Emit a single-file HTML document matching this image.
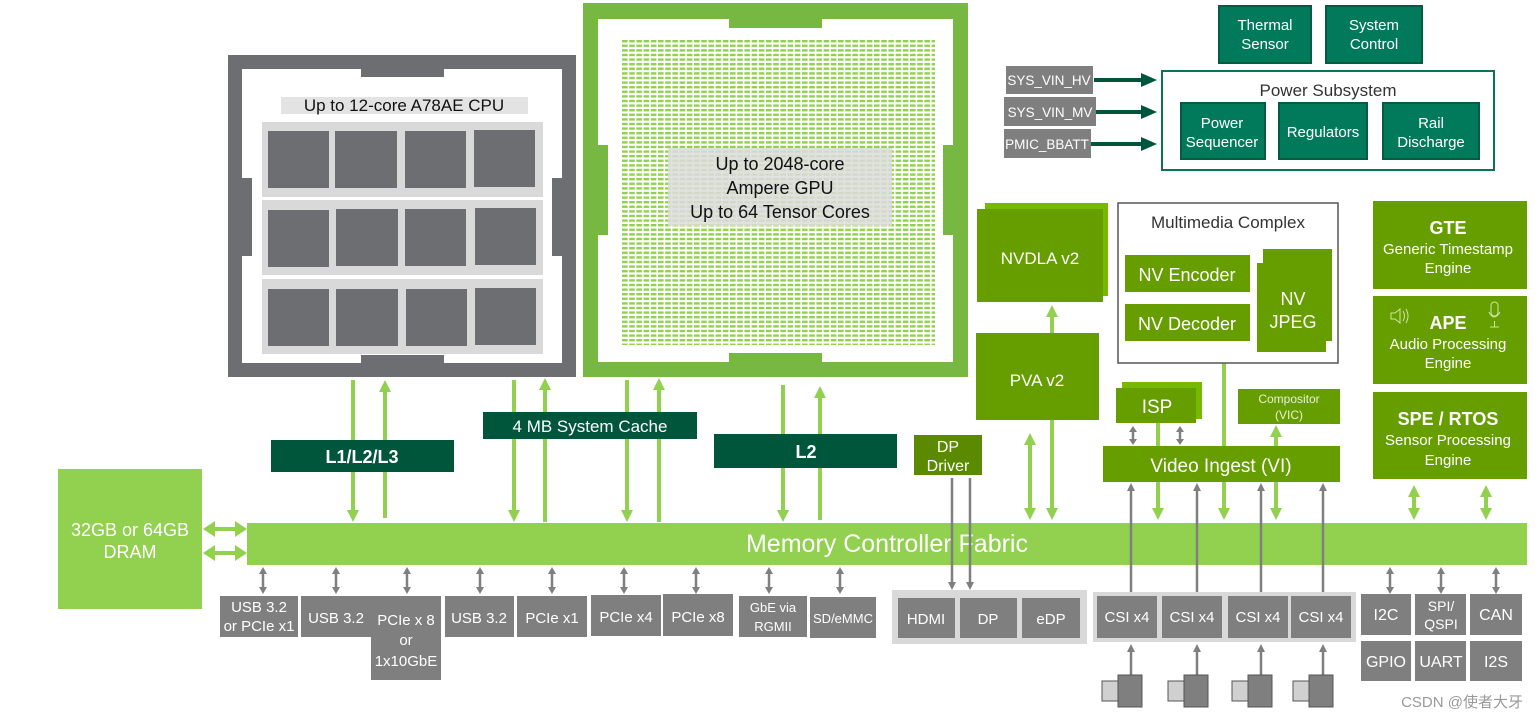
<!DOCTYPE html>
<html><head><meta charset="utf-8"><style>
html,body{margin:0;padding:0;background:#fff;width:1539px;height:721px;overflow:hidden}
svg text{font-family:"Liberation Sans","DejaVu Sans",sans-serif}
</style></head><body>
<svg width="1539" height="721" viewBox="0 0 1539 721" xmlns="http://www.w3.org/2000/svg">
<defs>
<pattern id="dash" x="622" y="40" width="7.2" height="4.6" patternUnits="userSpaceOnUse">
<rect x="0" y="0" width="5.6" height="2.4" fill="#92d050"/>
</pattern>
</defs>

<!-- CPU -->
<rect x="228" y="55" width="348" height="322" fill="#6d6e71"/>
<rect x="242" y="69" width="320" height="294" fill="#fff"/>
<rect x="361" y="69" width="83" height="8" fill="#6d6e71"/>
<rect x="361" y="355" width="83" height="8" fill="#6d6e71"/>
<rect x="242" y="178" width="10" height="78" fill="#6d6e71"/>
<rect x="552" y="178" width="10" height="78" fill="#6d6e71"/>
<rect x="281" y="97" width="247" height="17" fill="#e3e3e3"/>
<text x="404" y="111" font-size="17" text-anchor="middle" fill="#111">Up to 12-core A78AE CPU</text>
<g fill="#d9d9d9"><rect x="262" y="122" width="281" height="75"/><rect x="262" y="200" width="281" height="75"/><rect x="262" y="279" width="281" height="75"/></g>
<g fill="#6d6e71">
<rect x="268" y="131" width="61" height="57"/><rect x="335" y="131" width="62" height="57"/><rect x="405" y="131" width="61" height="57"/><rect x="474" y="130" width="61" height="57"/>
<rect x="268" y="210" width="61" height="57"/><rect x="336" y="209" width="62" height="57"/><rect x="405" y="209" width="61" height="57"/><rect x="475" y="208" width="61" height="57"/>
<rect x="268" y="289" width="61" height="57"/><rect x="336" y="289" width="62" height="57"/><rect x="406" y="289" width="61" height="57"/><rect x="475" y="288" width="61" height="57"/>
</g>

<!-- GPU -->
<rect x="583" y="3" width="385" height="374" fill="#77b843"/>
<rect x="598" y="19" width="355" height="343" fill="#fff"/>
<rect x="729" y="19" width="93" height="9" fill="#77b843"/>
<rect x="729" y="353" width="93" height="9" fill="#77b843"/>
<rect x="598" y="145" width="10" height="90" fill="#77b843"/>
<rect x="943" y="145" width="10" height="90" fill="#77b843"/>
<rect x="622" y="40" width="313" height="305" fill="url(#dash)"/>
<rect x="668" y="148" width="224" height="78" fill="#dcdcdc" opacity="0.85"/>
<g font-size="18" text-anchor="middle" fill="#111"><text x="780" y="170">Up to 2048-core</text><text x="780" y="194">Ampere GPU</text><text x="780" y="218">Up to 64 Tensor  Cores</text></g>

<!-- DRAM -->
<rect x="58" y="469" width="144" height="140" fill="#92d050"/>
<g font-size="18" text-anchor="middle" fill="#fff"><text x="130" y="536">32GB or 64GB</text><text x="130" y="558">DRAM</text></g>

<!-- green arrows -->
<g stroke="#92d050" stroke-width="4" fill="none">
<line x1="353" y1="380" x2="353" y2="512"/>
<line x1="385" y1="390" x2="385" y2="518"/>
<line x1="514" y1="380" x2="514" y2="512"/>
<line x1="545" y1="390" x2="545" y2="522"/>
<line x1="627" y1="380" x2="627" y2="512"/>
<line x1="659" y1="390" x2="659" y2="522"/>
<line x1="783" y1="385" x2="783" y2="512"/>
<line x1="820" y1="397" x2="820" y2="520"/>
<line x1="1052" y1="315" x2="1052" y2="333"/>
<line x1="1030" y1="445" x2="1030" y2="510"/>
<line x1="1052" y1="420" x2="1052" y2="510"/>
<line x1="1158" y1="423" x2="1158" y2="510"/>
<line x1="1224" y1="355" x2="1224" y2="510"/>
<line x1="1276" y1="437" x2="1276" y2="510"/>
<line x1="1414" y1="495" x2="1414" y2="510"/>
<line x1="1486" y1="495" x2="1486" y2="510"/>
<line x1="212" y1="529" x2="240" y2="529"/>
<line x1="212" y1="553" x2="240" y2="553"/>
</g>
<g fill="#92d050">
<path d="M353,522 l-6,-12 h12 Z"/><path d="M385,380 l-6,12 h12 Z"/>
<path d="M514,522 l-6,-12 h12 Z"/><path d="M545,378 l-6,12 h12 Z"/>
<path d="M627,522 l-6,-12 h12 Z"/><path d="M659,378 l-6,12 h12 Z"/>
<path d="M783,522 l-6,-12 h12 Z"/><path d="M820,386 l-6,12 h12 Z"/>
<path d="M1052,305 l-6,12 h12 Z"/>
<path d="M1030,433 l-6,12 h12 Z"/><path d="M1030,520 l-6,-12 h12 Z"/>
<path d="M1052,520 l-6,-12 h12 Z"/>
<path d="M1158,520 l-6,-12 h12 Z"/>
<path d="M1224,344 l-6,12 h12 Z"/><path d="M1224,520 l-6,-12 h12 Z"/>
<path d="M1276,425 l-6,12 h12 Z"/><path d="M1276,520 l-6,-12 h12 Z"/>
<path d="M1414,485 l-6,12 h12 Z"/><path d="M1414,520 l-6,-12 h12 Z"/>
<path d="M1486,485 l-6,12 h12 Z"/><path d="M1486,520 l-6,-12 h12 Z"/>
<path d="M203,529 l12,-8 v16 Z"/><path d="M247,529 l-12,-8 v16 Z"/>
<path d="M203,553 l12,-8 v16 Z"/><path d="M247,553 l-12,-8 v16 Z"/>
</g>

<!-- cache boxes -->
<rect x="271" y="440" width="183" height="32" fill="#00563b"/>
<text x="362" y="463" font-size="18" font-weight="bold" text-anchor="middle" fill="#fff">L1/L2/L3</text>
<rect x="483" y="412" width="214" height="27" fill="#00563b"/>
<text x="590" y="432" font-size="17" text-anchor="middle" fill="#fff">4 MB System Cache</text>
<rect x="714" y="434" width="183" height="34" fill="#00563b"/>
<text x="806" y="458" font-size="18" font-weight="bold" text-anchor="middle" fill="#fff">L2</text>

<!-- fabric -->
<rect x="247" y="523" width="1280" height="42" fill="#92d050"/>
<text x="887" y="552" font-size="25" text-anchor="middle" fill="#fff">Memory Controller Fabric</text>

<!-- gray arrows -->
<g stroke="#7f7f7f" stroke-width="2.5" fill="#7f7f7f">
<g id="ga"><line x1="263" y1="572" x2="263" y2="589"/><path d="M263,567 L259,574 L267,574 Z M263,594 L259,587 L267,587 Z" stroke="none"/></g>
<use href="#ga" x="73"/><use href="#ga" x="144"/><use href="#ga" x="217"/><use href="#ga" x="289"/><use href="#ga" x="361"/><use href="#ga" x="433"/><use href="#ga" x="506"/><use href="#ga" x="577"/>
<use href="#ga" x="1127"/><use href="#ga" x="1178"/><use href="#ga" x="1233"/>
<line x1="952" y1="478" x2="952" y2="583"/><path d="M952,590 L948,582 L956,582 Z" stroke="none"/>
<line x1="970" y1="478" x2="970" y2="583"/><path d="M970,590 L966,582 L974,582 Z" stroke="none"/>
<line x1="1131" y1="490" x2="1131" y2="592"/><path d="M1131,483 L1127,491 L1135,491 Z" stroke="none"/>
<line x1="1197" y1="490" x2="1197" y2="592"/><path d="M1197,483 L1193,491 L1201,491 Z" stroke="none"/>
<line x1="1261" y1="490" x2="1261" y2="592"/><path d="M1261,483 L1257,491 L1265,491 Z" stroke="none"/>
<line x1="1323" y1="490" x2="1323" y2="592"/><path d="M1323,483 L1319,491 L1327,491 Z" stroke="none"/>
<line x1="1131" y1="652" x2="1131" y2="676"/><path d="M1131,644 L1127,652 L1135,652 Z" stroke="none"/>
<line x1="1197" y1="652" x2="1197" y2="676"/><path d="M1197,644 L1193,652 L1201,652 Z" stroke="none"/>
<line x1="1261" y1="652" x2="1261" y2="676"/><path d="M1261,644 L1257,652 L1265,652 Z" stroke="none"/>
<line x1="1323" y1="652" x2="1323" y2="676"/><path d="M1323,644 L1319,652 L1327,652 Z" stroke="none"/>
</g>

<!-- IO boxes -->
<g fill="#7f7f7f">
<rect x="220" y="596" width="78" height="41"/>
<rect x="301" y="596" width="140" height="41"/><rect x="371" y="596" width="70" height="84"/>
<rect x="445" y="596" width="69" height="41"/><rect x="517" y="596" width="70" height="41"/>
<rect x="591" y="595" width="70" height="41"/><rect x="663" y="594" width="70" height="42"/>
<rect x="739" y="596" width="68" height="41"/><rect x="810" y="597" width="66" height="41"/>
</g>
<g font-size="15" fill="#fff" text-anchor="middle">
<text x="259" y="612">USB 3.2</text><text x="259" y="631">or PCIe x1</text>
<text x="336" y="623">USB 3.2</text>
<text x="406" y="625">PCIe x 8</text><text x="406" y="645">or</text><text x="406" y="666">1x10GbE</text>
<text x="479" y="623">USB 3.2</text><text x="552" y="623">PCIe x1</text><text x="626" y="622">PCIe x4</text><text x="698" y="622">PCIe x8</text>
<text x="773" y="612" font-size="13">GbE via</text><text x="773" y="631" font-size="13">RGMII</text>
<text x="843" y="623" font-size="13">SD/eMMC</text>
</g>

<!-- display -->
<rect x="892" y="590" width="195" height="54" fill="#d9d9d9"/>
<g fill="#7f7f7f"><rect x="898" y="598" width="57" height="40"/><rect x="960" y="598" width="57" height="40"/><rect x="1022" y="598" width="58" height="40"/></g>
<g font-size="15" fill="#fff" text-anchor="middle"><text x="926" y="624">HDMI</text><text x="988" y="624">DP</text><text x="1051" y="624">eDP</text></g>
<rect x="914" y="435" width="68" height="40" fill="#5b8a00"/>
<g font-size="16" fill="#fff" text-anchor="middle"><text x="948" y="452">DP</text><text x="948" y="471">Driver</text></g>

<!-- CSI -->
<rect x="1093" y="592" width="263" height="50" fill="#d9d9d9"/>
<g fill="#7f7f7f"><rect x="1097" y="596" width="60" height="42"/><rect x="1162" y="596" width="60" height="42"/><rect x="1228" y="596" width="60" height="42"/><rect x="1291" y="596" width="60" height="42"/></g>
<g font-size="15" fill="#fff" text-anchor="middle"><text x="1127" y="622">CSI x4</text><text x="1192" y="622">CSI x4</text><text x="1258" y="622">CSI x4</text><text x="1321" y="622">CSI x4</text></g>
<g>
<g id="cam"><rect x="1102" y="681" width="16" height="20" fill="#d0d0d0" stroke="#555" stroke-width="1"/><rect x="1118" y="675" width="24" height="32" fill="#7f7f7f" stroke="#555" stroke-width="1"/></g>
<use href="#cam" x="66"/><use href="#cam" x="130"/><use href="#cam" x="191"/>
</g>

<!-- misc IO right -->
<g fill="#7f7f7f">
<rect x="1361" y="594" width="50" height="41"/><rect x="1415" y="594" width="51" height="41"/><rect x="1470" y="594" width="52" height="41"/>
<rect x="1361" y="641" width="50" height="40"/><rect x="1415" y="641" width="51" height="40"/><rect x="1470" y="641" width="52" height="40"/>
</g>
<g font-size="16" fill="#fff" text-anchor="middle">
<text x="1386" y="620">I2C</text><text x="1441" y="611" font-size="14">SPI/</text><text x="1441" y="629" font-size="14">QSPI</text><text x="1496" y="620">CAN</text>
<text x="1386" y="667">GPIO</text><text x="1441" y="667">UART</text><text x="1496" y="667">I2S</text>
</g>

<!-- PVA NVDLA -->
<rect x="985" y="203" width="123" height="93" fill="#76b900"/>
<rect x="977" y="209" width="126" height="93" fill="#669e00"/>
<text x="1040" y="264" font-size="17" text-anchor="middle" fill="#fff">NVDLA v2</text>
<rect x="976" y="333" width="123" height="87" fill="#669e00"/>
<text x="1037" y="386" font-size="17" text-anchor="middle" fill="#fff">PVA v2</text>

<!-- Multimedia -->
<rect x="1118" y="203" width="220" height="160" fill="#fff" stroke="#555" stroke-width="1.5"/>
<text x="1228" y="228" font-size="17" text-anchor="middle" fill="#333">Multimedia Complex</text>
<rect x="1125" y="255" width="125" height="37" fill="#669e00"/>
<text x="1187" y="281" font-size="18" text-anchor="middle" fill="#fff">NV Encoder</text>
<rect x="1125" y="304" width="125" height="37" fill="#669e00"/>
<text x="1187" y="330" font-size="18" text-anchor="middle" fill="#fff">NV Decoder</text>
<rect x="1263" y="249" width="69" height="92" fill="#669e00"/>
<rect x="1257" y="263" width="69" height="89" fill="#669e00"/>
<text x="1293" y="305" font-size="18" text-anchor="middle" fill="#fff">NV</text><text x="1293" y="328" font-size="18" text-anchor="middle" fill="#fff">JPEG</text>
<rect x="1222" y="365" width="4" height="81" fill="#92d050"/>

<!-- ISP VI compositor -->
<rect x="1122" y="382" width="80" height="37" fill="#76b900"/>
<rect x="1116" y="388" width="80" height="35" fill="#669e00"/>
<text x="1157" y="413" font-size="19" text-anchor="middle" fill="#fff">ISP</text>
<rect x="1238" y="389" width="102" height="35" fill="#669e00"/>
<text x="1289" y="403" font-size="12" text-anchor="middle" fill="#e8f0d8">Compositor</text><text x="1289" y="419" font-size="12" text-anchor="middle" fill="#e8f0d8">(VIC)</text>
<rect x="1103" y="446" width="237" height="36" fill="#669e00"/>
<text x="1221" y="472" font-size="19" text-anchor="middle" fill="#fff">Video Ingest (VI)</text>
<g stroke="#7f7f7f" stroke-width="2.5"><line x1="1133" y1="430" x2="1133" y2="441"/><line x1="1180" y1="430" x2="1180" y2="441"/></g>
<path d="M1133,426 L1129,432 L1137,432 Z M1133,445 L1129,439 L1137,439 Z M1180,426 L1176,432 L1184,432 Z M1180,445 L1176,439 L1184,439 Z" fill="#7f7f7f"/>
<rect x="1156" y="423" width="4" height="23" fill="#92d050"/>

<!-- right column -->
<rect x="1373" y="201" width="154" height="88" fill="#669e00"/>
<text x="1448" y="234" font-size="18" font-weight="bold" text-anchor="middle" fill="#fff">GTE</text>
<text x="1448" y="254" font-size="15" text-anchor="middle" fill="#fff">Generic Timestamp</text><text x="1448" y="273" font-size="15" text-anchor="middle" fill="#fff">Engine</text>
<rect x="1373" y="296" width="154" height="88" fill="#669e00"/>
<text x="1448" y="329" font-size="18" font-weight="bold" text-anchor="middle" fill="#fff">APE</text>
<text x="1448" y="349" font-size="15" text-anchor="middle" fill="#fff">Audio Processing</text><text x="1448" y="368" font-size="15" text-anchor="middle" fill="#fff">Engine</text>
<path d="M1391,313 h4 l5,-4 v14 l-5,-4 h-4 Z M1403,311 q3,5 0,10 M1406,309 q4,7 0,14" fill="none" stroke="#cfe5a0" stroke-width="1"/>
<rect x="1491" y="302" width="7" height="14" rx="3.5" fill="none" stroke="#cfe5a0" stroke-width="1"/>
<path d="M1489,312 q5,10 11,0 M1494.5,321 v6 M1490,327 h9" fill="none" stroke="#cfe5a0" stroke-width="1"/>
<rect x="1373" y="392" width="154" height="87" fill="#669e00"/>
<text x="1448" y="425" font-size="18" font-weight="bold" text-anchor="middle" fill="#fff">SPE / RTOS</text>
<text x="1448" y="445" font-size="15" text-anchor="middle" fill="#fff">Sensor Processing</text><text x="1448" y="465" font-size="15" text-anchor="middle" fill="#fff">Engine</text>

<!-- power -->
<g fill="#007a5b" stroke="#005c43" stroke-width="2">
<rect x="1219" y="6" width="92" height="57"/><rect x="1326" y="6" width="96" height="57"/>
</g>
<g font-size="15" fill="#fff" text-anchor="middle"><text x="1265" y="30">Thermal</text><text x="1265" y="49">Sensor</text><text x="1374" y="30">System</text><text x="1374" y="49">Control</text></g>
<rect x="1162" y="71" width="332" height="99" fill="#fff" stroke="#0a7455" stroke-width="2"/>
<text x="1328" y="96" font-size="17" text-anchor="middle" fill="#333">Power Subsystem</text>
<g fill="#007a5b" stroke="#005c43" stroke-width="2">
<rect x="1181" y="103" width="84" height="56"/><rect x="1279" y="103" width="88" height="56"/><rect x="1383" y="103" width="96" height="56"/>
</g>
<g font-size="15" fill="#fff" text-anchor="middle"><text x="1222" y="128">Power</text><text x="1222" y="147">Sequencer</text><text x="1323" y="137">Regulators</text><text x="1431" y="128">Rail</text><text x="1431" y="147">Discharge</text></g>
<g fill="#7f7f7f"><rect x="1006" y="66" width="87" height="28"/><rect x="1004" y="97" width="92" height="29"/><rect x="1004" y="129" width="87" height="29"/></g>
<g font-size="13.5" fill="#fff" text-anchor="middle"><text x="1049" y="85">SYS_VIN_HV</text><text x="1050" y="117">SYS_VIN_MV</text><text x="1047" y="149">PMIC_BBATT</text></g>
<g fill="#00563b">
<rect x="1094" y="78" width="48" height="4"/><path d="M1141,73 L1157,80 L1141,87 Z"/>
<rect x="1096" y="110" width="46" height="4"/><path d="M1141,105 L1157,112 L1141,119 Z"/>
<rect x="1091" y="142" width="51" height="4"/><path d="M1141,137 L1157,144 L1141,151 Z"/>
</g>

<text x="1523" y="707" font-size="15" fill="#999" text-anchor="end" font-family="Liberation Sans, Noto Sans CJK SC, sans-serif">CSDN @使者大牙</text>
</svg>
</body></html>
